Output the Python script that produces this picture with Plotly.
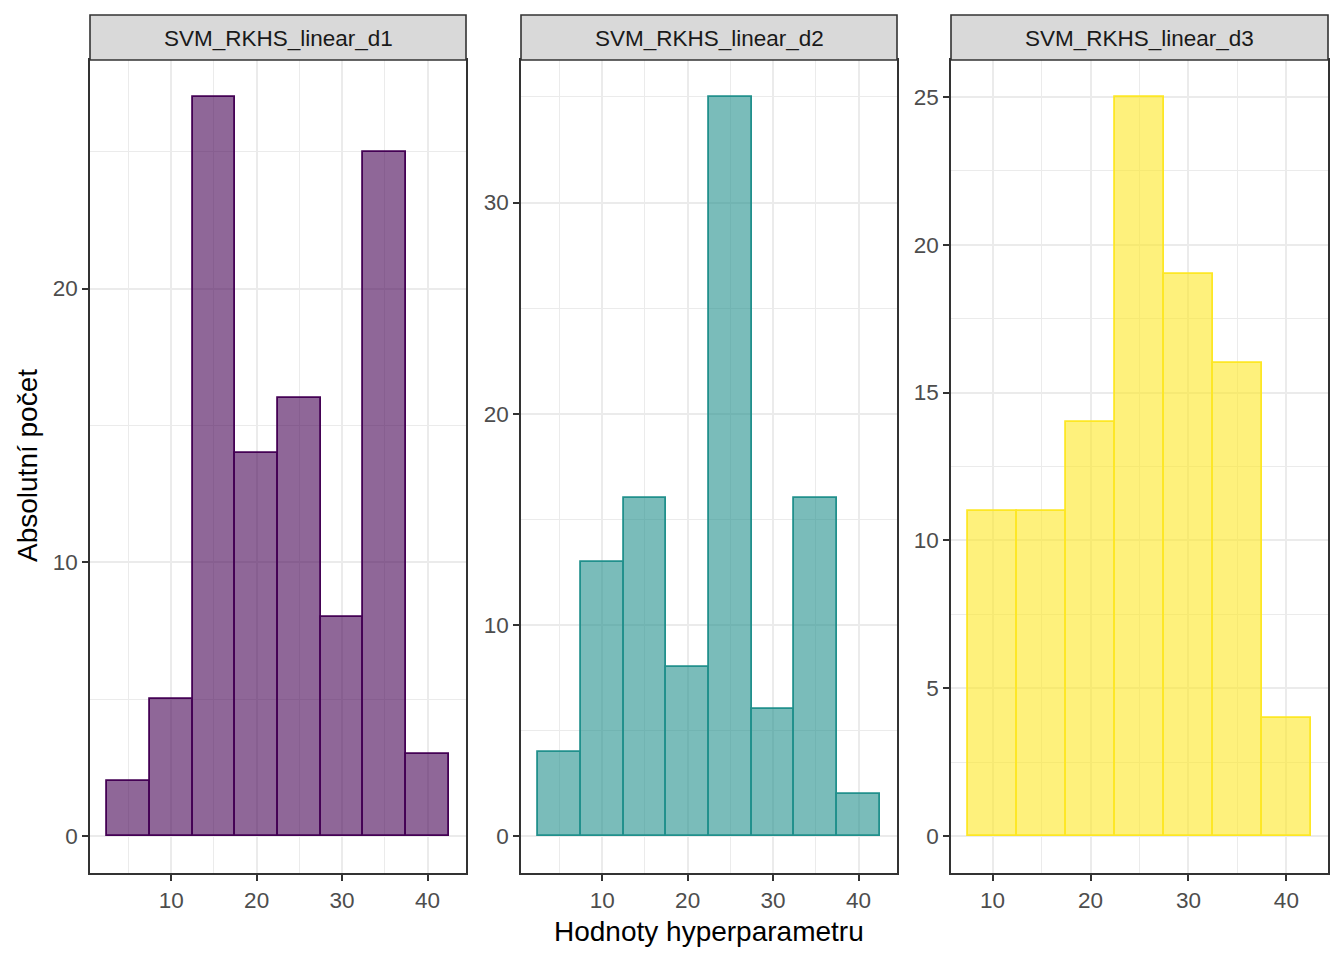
import plotly.graph_objects as go

# The page body has an 8px margin; work in reference pixels and shift by it.
OFF = 8
W, H = 1344 - 2 * OFF, 960 - 2 * OFF

titles = ["SVM_RKHS_linear_d1", "SVM_RKHS_linear_d2", "SVM_RKHS_linear_d3"]
centers_d1 = [5, 10, 15, 20, 25, 30, 35, 40]
counts_d1 = [2, 5, 27, 14, 16, 8, 25, 3]
centers_d2 = [5, 10, 15, 20, 25, 30, 35, 40]
counts_d2 = [4, 13, 16, 8, 35, 6, 16, 2]
centers_d3 = [10, 15, 20, 25, 30, 35, 40]
counts_d3 = [11, 11, 14, 25, 19, 16, 4]
bin_width = 5

line_colors = ["#440154", "#21908C", "#FDE725"]
fill_colors = ["rgba(68,1,84,0.6)", "rgba(33,144,140,0.6)", "rgba(253,231,37,0.6)"]

x_ranges = [[0.5, 44.5], [0.5, 44.5], [5.75, 44.25]]
y_ranges = [[-1.35, 28.35], [-1.75, 36.75], [-1.25, 26.25]]
y_dtick = [10, 10, 5]

px_x = [(90, 466), (521, 897), (951, 1328)]
plot_top, plot_bot = 60, 873
strip_top = 15


def fx(p):
    return (p - OFF) / W


def fy(p):
    return 1 - (p - OFF) / H


data = [(centers_d1, counts_d1), (centers_d2, counts_d2), (centers_d3, counts_d3)]
FONT = "Liberation Sans, Arial"

fig = go.Figure()
layout = {}
shapes = []
annotations = []
for i, (cx, cy) in enumerate(data):
    n = "" if i == 0 else str(i + 1)
    fig.add_trace(go.Bar(
        x=cx, y=cy, width=bin_width,
        marker=dict(color=fill_colors[i], line=dict(color=line_colors[i], width=1.8)),
        xaxis="x" + n, yaxis="y" + n, showlegend=False,
    ))
    x0, x1 = px_x[i]
    dom_x = [fx(x0), fx(x1)]
    dom_y = [fy(plot_bot), fy(plot_top)]
    common = dict(
        showgrid=True, gridcolor="#EBEBEB", gridwidth=1.8,
        zeroline=False, showline=True, linecolor="#333333", linewidth=1.6,
        mirror=True, ticks="outside", ticklen=6, tickcolor="#333333", tickwidth=1.5,
        tickfont=dict(family=FONT, size=22.5, color="#4D4D4D"),
    )
    layout["xaxis" + n] = dict(
        domain=dom_x, anchor="y" + n, range=x_ranges[i],
        tickmode="array", tickvals=[10, 20, 30, 40],
        minor=dict(tickvals=[5, 15, 25, 35], showgrid=True, gridcolor="#EBEBEB", gridwidth=1.0, ticks=""),
        **common,
    )
    ymax = y_ranges[i][1]
    maj = [v for v in range(0, int(ymax) + 1, y_dtick[i])]
    mino = [v + y_dtick[i] / 2 for v in maj if v + y_dtick[i] / 2 < ymax]
    layout["yaxis" + n] = dict(
        domain=dom_y, anchor="x" + n, range=y_ranges[i],
        tickmode="array", tickvals=maj,
        minor=dict(tickvals=mino, showgrid=True, gridcolor="#EBEBEB", gridwidth=1.0, ticks=""),
        **common,
    )
    shapes.append(dict(
        type="rect", xref="paper", yref="paper",
        x0=fx(x0), x1=fx(x1), y0=fy(plot_top), y1=fy(strip_top),
        fillcolor="#D9D9D9", line=dict(color="#333333", width=1.6), layer="above",
    ))
    annotations.append(dict(
        text=titles[i], xref="paper", yref="paper",
        x=fx((x0 + x1) / 2), y=fy((strip_top + plot_top) / 2 + 1),
        xanchor="center", yanchor="middle", showarrow=False,
        font=dict(family=FONT, size=22.5, color="#1A1A1A"),
    ))

annotations.append(dict(
    text="Hodnoty hyperparametru", xref="paper", yref="paper",
    x=fx((521 + 897) / 2), y=fy(931), xanchor="center", yanchor="middle",
    showarrow=False, font=dict(family=FONT, size=28, color="#000000"),
))
annotations.append(dict(
    text="Absolutní počet", xref="paper", yref="paper",
    x=fx(28), y=fy(466), xanchor="center", yanchor="middle", textangle=-90,
    showarrow=False, font=dict(family=FONT, size=28, color="#000000"),
))

fig.update_layout(
    width=W, height=H, margin=dict(l=0, r=0, t=0, b=0),
    paper_bgcolor="white", plot_bgcolor="white",
    shapes=shapes, annotations=annotations, bargap=0,
    **layout,
)

fig.write_html("out.html")
